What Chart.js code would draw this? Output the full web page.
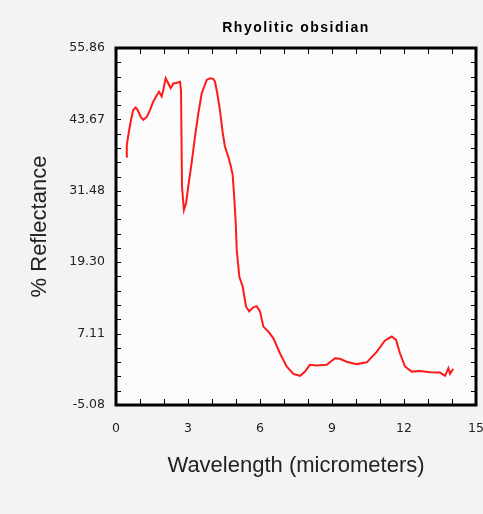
<!DOCTYPE html>
<html lang="en">
<head>
  <meta charset="UTF-8" />
  <script src="https://cdn.jsdelivr.net/npm/chart.js"></script>
  <title>Rhyolitic obsidian</title>
  <style>
    html, body {
      margin: 0;
      padding: 0;
      background: #f3f3f3;
    }
    .wrap {
      width: 483px;
      height: 514px;
    }
  </style>
</head>
<body>
  <div class="wrap"><canvas id="chart" width="483" height="514"></canvas></div>

  <script>
    const chartTitle = 'Rhyolitic obsidian';
    const wavelength = [0.42, 0.45, 0.55, 0.65, 0.72, 0.82, 0.9, 1.03, 1.14, 1.28, 1.42, 1.55, 1.7, 1.79, 1.9, 1.97,
      2.07, 2.18, 2.28, 2.39, 2.5, 2.67, 2.71, 2.75, 2.83, 2.92, 3.01, 3.15, 3.29, 3.43, 3.57, 3.78, 3.92, 4.05,
      4.125, 4.22, 4.33, 4.44, 4.54, 4.68, 4.79, 4.86, 4.92, 4.99, 5.03, 5.14, 5.28, 5.42, 5.55, 5.72, 5.86, 6.0,
      6.14, 6.35, 6.56, 6.83, 7.11, 7.39, 7.67, 7.875, 8.08, 8.36, 8.78, 9.125, 9.33, 9.61, 10.03, 10.45, 10.86,
      11.2, 11.49, 11.67, 11.83, 12.04, 12.32, 12.67, 13.08, 13.5, 13.71, 13.85, 13.92, 14.05];
    const reflectance = [37.3, 39.3, 41.9, 44.1, 45.3, 45.7, 45.3, 44.1, 43.6, 44.1, 45.3, 46.7, 47.8, 48.4, 47.6, 48.7,
      50.7, 49.8, 49.0, 49.8, 49.9, 50.1, 48.4, 32.2, 28.2, 29.4, 32.2, 36.2, 40.7, 44.7, 48.1, 50.4, 50.7, 50.6,
      50.1, 48.1, 45.3, 41.6, 39.0, 37.3, 35.6, 34.2, 30.8, 25.9, 21.4, 16.8, 15.1, 11.7, 10.9, 11.6, 11.8, 10.9,
      8.3, 7.45, 6.3, 3.75, 1.5, 0.23, -0.1, 0.62, 1.77, 1.65, 1.77, 2.9, 2.8, 2.3, 1.9, 2.2, 4.0,
      5.9, 6.6, 6.03, 3.75, 1.5, 0.62, 0.74, 0.52, 0.45, -0.1, 1.2, 0.23, 1.1];
    const yTickLabels = ['-5.08', '7.11', '19.30', '31.48', '43.67', '55.86'];
    const xTickLabels = [0, 3, 6, 9, 12, 15];

    const points = wavelength.map((x, i) => ({ x: x, y: reflectance[i] }));
    const yMin = parseFloat(yTickLabels[0]);
    const yMax = parseFloat(yTickLabels[yTickLabels.length - 1]);
    const tickFont = { family: '"DejaVu Sans", sans-serif', size: 12.5 };
    const titleFont = { family: 'Arial, "Liberation Sans", sans-serif', size: 22 };

    // plot background, frame, inward ticks and title
    const framePlugin = {
      id: 'frame',
      beforeDraw(chart) {
        const a = chart.chartArea;
        const ctx = chart.ctx;
        ctx.save();
        ctx.fillStyle = '#fcfcfc';
        ctx.fillRect(a.left, a.top, a.right - a.left, a.bottom - a.top);
        ctx.restore();
      },
      afterDraw(chart) {
        const a = chart.chartArea;
        const ctx = chart.ctx;
        const xs = chart.scales.x;
        const ys = chart.scales.y;
        ctx.save();
        ctx.strokeStyle = '#000';
        ctx.lineWidth = 1;
        ctx.beginPath();
        for (let v = 1; v < 15; v++) {
          const px = Math.round(xs.getPixelForValue(v)) + 0.5;
          ctx.moveTo(px, a.top); ctx.lineTo(px, a.top + 6);
          ctx.moveTo(px, a.bottom); ctx.lineTo(px, a.bottom - 6);
        }
        const step = (yMax - yMin) / 25;
        for (let k = 1; k < 25; k++) {
          const py = Math.round(ys.getPixelForValue(yMin + k * step)) + 0.5;
          ctx.moveTo(a.left, py); ctx.lineTo(a.left + 5, py);
          ctx.moveTo(a.right, py); ctx.lineTo(a.right - 5, py);
        }
        ctx.stroke();
        ctx.lineWidth = 3;
        ctx.strokeRect(a.left, a.top, a.right - a.left, a.bottom - a.top);
        ctx.fillStyle = '#000';
        ctx.font = 'bold 14px Arial, "Liberation Sans", sans-serif';
        ctx.letterSpacing = '1.5px';
        ctx.textAlign = 'center';
        ctx.textBaseline = 'middle';
        ctx.fillText(chartTitle, (a.left + a.right) / 2, 28);
        ctx.restore();
      }
    };

    new Chart(document.getElementById('chart'), {
      type: 'line',
      data: {
        datasets: [{
          data: points,
          borderColor: '#ff1a1a',
          borderWidth: 2,
          pointRadius: 0,
          tension: 0,
          fill: false
        }]
      },
      options: {
        responsive: false,
        animation: false,
        layout: { padding: { top: 48, right: 7, left: 0, bottom: 0 } },
        plugins: {
          legend: { display: false },
          tooltip: { enabled: false }
        },
        scales: {
          x: {
            type: 'linear',
            min: 0,
            max: 15,
            border: { display: false },
            grid: { display: false, drawTicks: false },
            afterBuildTicks: s => { s.ticks = xTickLabels.map(v => ({ value: v })); },
            afterFit: s => { s.height = 109; s.paddingLeft = 0; s.paddingRight = 0; },
            ticks: {
              color: '#222',
              padding: 16,
              maxRotation: 0,
              font: tickFont
            },
            title: {
              display: true,
              text: 'Wavelength (micrometers)',
              color: '#222',
              padding: { top: 0, bottom: 35 },
              font: titleFont
            }
          },
          y: {
            min: yMin,
            max: yMax,
            border: { display: false },
            grid: { display: false, drawTicks: false },
            afterBuildTicks: s => { s.ticks = yTickLabels.map(v => ({ value: parseFloat(v) })); },
            afterFit: s => { s.width = 116; s.paddingTop = 0; s.paddingBottom = 0; },
            ticks: {
              color: '#222',
              padding: 11,
              callback: (v, i) => yTickLabels[i],
              font: tickFont
            },
            title: {
              display: true,
              text: '% Reflectance',
              color: '#222',
              padding: { top: 27, bottom: 0 },
              font: titleFont
            }
          }
        }
      },
      plugins: [framePlugin]
    });
  </script>
</body>
</html>
